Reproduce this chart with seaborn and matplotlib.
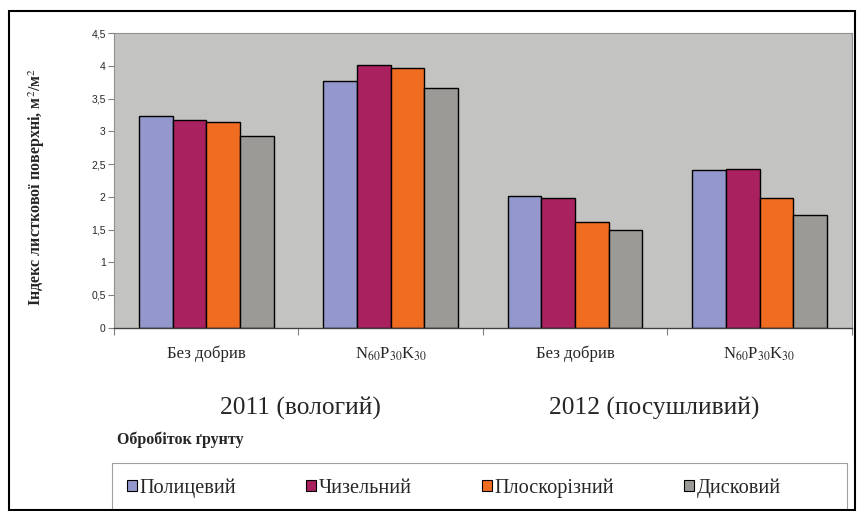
import numpy as np
import pandas as pd
import seaborn as sns
import matplotlib.pyplot as plt
from matplotlib.patches import Rectangle

# Data
groups = ['g1', 'g2', 'g3', 'g4']
group_labels = ['Без добрив', r'N$_{60}$P$_{30}$K$_{30}$', 'Без добрив', r'N$_{60}$P$_{30}$K$_{30}$']
years = ['2011 (вологий)', '2012 (посушливий)']
treatments = ['Полицевий', 'Чизельний', 'Плоскорізний', 'Дисковий']
polytsevyi = [3.24, 3.77, 2.02, 2.41]
chyzelnyi = [3.17, 4.01, 1.99, 2.42]
ploskorizny = [3.15, 3.97, 1.61, 1.99]
dyskovyi = [2.93, 3.67, 1.50, 1.73]
colors = ['#9497CB', '#AA2160', '#F06C20', '#9C9A96']

rows = []
for name, vals in zip(treatments, [polytsevyi, chyzelnyi, ploskorizny, dyskovyi]):
    for g, v in zip(groups, vals):
        rows.append({'group': g, 'treatment': name, 'value': v})
df = pd.DataFrame(rows)

sns.set_style('white')
plt.rcParams['font.family'] = ['Liberation Serif', 'DejaVu Serif']
plt.rcParams['mathtext.fontset'] = 'stix'

fig = plt.figure(figsize=(8.57, 5.11), dpi=100)
ax = fig.add_axes([0.133, 0.3587, 0.861, 0.5761])

sns.barplot(data=df, x='group', y='value', hue='treatment', order=groups,
            hue_order=treatments, palette=colors, width=0.73,
            edgecolor='black', linewidth=1, saturation=1, ax=ax, legend=False)

ax.set_facecolor('#C3C3C1')
ax.set_ylim(0, 4.5)
ax.set_xlim(-0.5, 3.5)
yt = np.arange(0, 4.51, 0.5)
ax.set_yticks(yt)
ax.set_yticklabels([('%g' % t).replace('.', ',') for t in yt],
                   fontfamily='Liberation Sans', fontsize=7.5)
ax.tick_params(axis='y', length=4, width=0.8, color='#808080', pad=2, left=True)

# group boundary ticks, labels in the middle
ax.set_xticks([-0.5, 0.5, 1.5, 2.5, 3.5])
ax.set_xticklabels([])
ax.tick_params(axis='x', which='major', length=5, width=0.8, color='#808080', bottom=True)
ax.set_xticks(range(4), minor=True)
ax.set_xticklabels(group_labels, minor=True, fontsize=12)
ax.tick_params(axis='x', which='minor', length=0, pad=13)
ax.set_xlabel('')
ax.set_ylabel('Індекс листкової поверхні, м$^2$/м$^2$', fontweight='bold', fontsize=11.5)
ax.yaxis.set_label_coords(-0.091, 0.48)

for side in ['top', 'right', 'left']:
    ax.spines[side].set_color('#909090')
    ax.spines[side].set_linewidth(0.8)
ax.spines['bottom'].set_color('#404040')
ax.spines['bottom'].set_linewidth(1)

# year labels under each pair of groups
for x, y in zip([0.51, 2.43], years):
    ax.text(x, -1.24, y, ha='center', va='center', fontsize=18.4)

fig.text(117 / 857, 1 - 440 / 511, 'Обробіток ґрунту', fontweight='bold',
         fontsize=11.5, va='center', ha='left')

# legend in its own box
fig.patches.append(Rectangle((112 / 857, 0.0), 735 / 857, 1 - 463 / 511,
                             transform=fig.transFigure, fill=False,
                             edgecolor='#A0A0A0', linewidth=0.8))
handles = [Rectangle((0, 0), 1, 1, facecolor=c, edgecolor='black', linewidth=0.8)
           for c in colors]
leg = fig.legend(handles, treatments, loc='center left', ncol=4,
                 bbox_to_anchor=(127 / 857, 1 - 488 / 511), frameon=False,
                 fontsize=14.6, handlelength=0.48, handleheight=0.48,
                 handletextpad=0.15, columnspacing=3.45, borderpad=0,
                 borderaxespad=0)

# outer border
fig.patches.append(Rectangle((9 / 857, 0.002), 846 / 857, 1 - 11 / 511 - 0.002,
                             transform=fig.transFigure, fill=False,
                             edgecolor='black', linewidth=1.5))

fig.savefig('out.png', dpi=100)
